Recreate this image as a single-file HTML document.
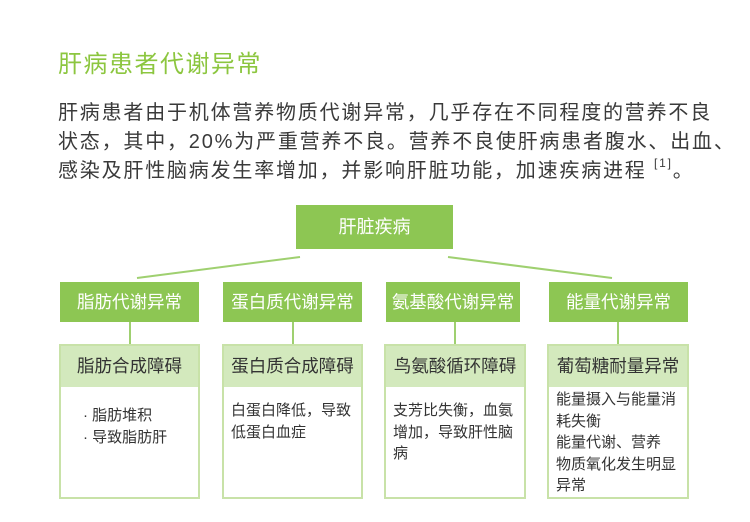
<!DOCTYPE html>
<html><head><meta charset="utf-8"><style>
body{margin:0;width:750px;height:522px;background:#fff;position:relative;overflow:hidden;font-family:"Liberation Sans","Noto Sans CJK SC",sans-serif;}
.a{position:absolute;white-space:nowrap;}
.t{left:58px;top:44px;font-size:24px;color:#8cc63f;letter-spacing:1.5px;}
.p{left:58px;font-size:20px;color:#3a3a3a;letter-spacing:1.8px;line-height:24px;}
.g{position:absolute;background:#8dc653;color:#fff;text-align:center;font-size:17.5px;}
.box{position:absolute;border:2px solid #c8e2a8;box-sizing:border-box;background:#fff;}
.hd{background:#d3e9bd;height:41px;line-height:41px;text-align:center;font-size:17.5px;color:#333;}
.bd{font-size:15px;color:#333;line-height:21.5px;padding:6px 7px;white-space:nowrap;}
.v{position:absolute;width:2px;background:#9fd070;top:322px;height:22px;}
</style></head><body>
<div class="a t">肝病患者代谢异常</div>
<div class="a p" style="top:101px">肝病患者由于机体营养物质代谢异常，几乎存在不同程度的营养不良</div>
<div class="a p" style="top:130px">状态，其中，20%为严重营养不良。营养不良使肝病患者腹水、出血、</div>
<div class="a p" style="top:159px">感染及肝性脑病发生率增加，并影响肝脏功能，加速疾病进程 <span style="font-size:12px;position:relative;top:-10px">[1]</span>。</div>

<div class="g" style="left:296px;top:205px;width:157px;height:44px;line-height:44px;font-size:18px">肝脏疾病</div>
<svg class="a" style="left:0;top:0" width="750" height="522"><line x1="137" y1="278" x2="300" y2="257" stroke="#9fd070" stroke-width="2"/><line x1="448" y1="257" x2="612" y2="278" stroke="#9fd070" stroke-width="2"/></svg>

<div class="g" style="left:60px;top:282px;width:139px;height:40px;line-height:40px">脂肪代谢异常</div>
<div class="g" style="left:223px;top:282px;width:139px;height:40px;line-height:40px">蛋白质代谢异常</div>
<div class="g" style="left:386px;top:282px;width:134px;height:40px;line-height:40px">氨基酸代谢异常</div>
<div class="g" style="left:549px;top:282px;width:139px;height:40px;line-height:40px">能量代谢异常</div>
<div class="v" style="left:129px"></div>
<div class="v" style="left:292px"></div>
<div class="v" style="left:454px"></div>
<div class="v" style="left:617px"></div>

<div class="box" style="left:59px;top:344px;width:141px;height:155px"><div class="hd">脂肪合成障碍</div><div class="bd" style="padding:18px 0 0 22px">· 脂肪堆积<br>· 导致脂肪肝</div></div>
<div class="box" style="left:222px;top:344px;width:141px;height:155px"><div class="hd">蛋白质合成障碍</div><div class="bd" style="padding-top:13px">白蛋白降低，导致<br>低蛋白血症</div></div>
<div class="box" style="left:384px;top:344px;width:142px;height:155px"><div class="hd">鸟氨酸循环障碍</div><div class="bd" style="padding-top:13px">支芳比失衡，血氨<br>增加，导致肝性脑<br>病</div></div>
<div class="box" style="left:547px;top:344px;width:142px;height:155px"><div class="hd">葡萄糖耐量异常</div><div class="bd" style="padding-top:2px">能量摄入与能量消<br>耗失衡<br>能量代谢、营养<br>物质氧化发生明显<br>异常</div></div>
</body></html>
